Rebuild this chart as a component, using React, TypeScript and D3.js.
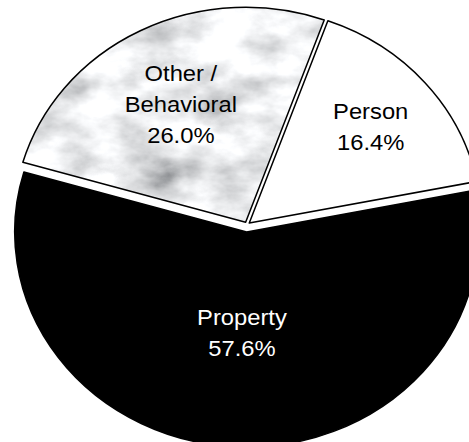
import React from "react";
import * as d3 from "d3";

const categories = ["Person", "Property", "Other / Behavioral"];
const categoryLines = [["Person"], ["Property"], ["Other /", "Behavioral"]];
const values = [16.4, 57.6, 26.0];

const W = 469;
const H = 442;
const cx = 247;
const cy = 225;
const rx = 232;
const ry = 215;
const startDeg = 19.8;
const explode = [3, 7, 3];
const labelFrac = [0.69, 0.47, 0.615];
const textFills = ["#000000", "#ffffff", "#000000"];
const fontSize = 22;
const lineH = 31;
const capH = 15.8;

export default function App() {
  const start = (startDeg * Math.PI) / 180;
  const slices = d3
    .pie<number>()
    .sort(null)
    .startAngle(start)
    .endAngle(start + 2 * Math.PI)(values);
  const arc = d3.arc<d3.PieArcDatum<number>>().innerRadius(0).outerRadius(rx);
  const sy = ry / rx;

  return (
    <svg
      width={W}
      height={H}
      style={{ position: "absolute", left: 0, top: 0, background: "#fff" }}
    >
      <defs>
        <filter id="marble" x="0" y="0" width={W} height={H} filterUnits="userSpaceOnUse">
          <feTurbulence type="fractalNoise" baseFrequency="0.016 0.026" numOctaves={5} seed={11} />
          <feColorMatrix
            type="matrix"
            values="1.25 0 0 0 0.215  1.25 0 0 0 0.225  1.25 0 0 0 0.24  0 0 0 0 1"
          />
        </filter>
      </defs>
      {slices.map((s, i) => {
        const mid = (s.startAngle + s.endAngle) / 2;
        const ox = Math.sin(mid) * explode[i];
        const oy = -Math.cos(mid) * explode[i];
        const tr = `translate(${cx + ox},${cy + oy}) scale(1,${sy})`;
        const d = arc(s) || "";
        const isOther = i === 2;
        const isProperty = i === 1;
        return (
          <g key={categories[i]}>
            {isOther && (
              <>
                <clipPath id="clipOther">
                  <path d={d} transform={tr} />
                </clipPath>
                <rect x={0} y={0} width={W} height={H} filter="url(#marble)" clipPath="url(#clipOther)" />
              </>
            )}
            <path
              d={d}
              transform={tr}
              fill={isOther ? "none" : isProperty ? "#000000" : "#ffffff"}
              stroke="#000000"
              strokeWidth={1.5}
              strokeLinejoin="round"
              vectorEffect="non-scaling-stroke"
            />
          </g>
        );
      })}
      {slices.map((s, i) => {
        const mid = (s.startAngle + s.endAngle) / 2;
        const ox = Math.sin(mid) * explode[i];
        const oy = -Math.cos(mid) * explode[i];
        const x = cx + ox + Math.sin(mid) * rx * labelFrac[i];
        const y = cy + oy - Math.cos(mid) * ry * labelFrac[i];
        const lines = [...categoryLines[i], values[i].toFixed(1) + "%"];
        const y0 = -((lines.length - 1) * lineH) / 2 + capH / 2;
        return (
          <text
            key={"t" + i}
            transform={`translate(${x},${y}) scale(1.08,1)`}
            textAnchor="middle"
            fontFamily="'Liberation Sans', Arial, sans-serif"
            fontSize={fontSize}
            fill={textFills[i]}
          >
            {lines.map((ln, j) => (
              <tspan key={j} x={0} y={y0 + j * lineH}>
                {ln}
              </tspan>
            ))}
          </text>
        );
      })}
    </svg>
  );
}
